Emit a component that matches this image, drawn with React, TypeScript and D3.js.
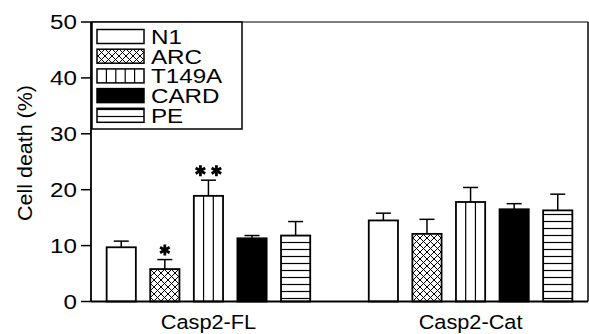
import React from "react";
import * as d3 from "d3";

// groups on the x axis
const groups = ["Casp2-FL", "Casp2-Cat"];
// constructs (legend order)
const series = ["N1", "ARC", "T149A", "CARD", "PE"];
// mean cell death (%) per group, in series order
const meanFL = [9.7, 5.8, 18.9, 11.3, 11.8];
const meanCat = [14.5, 12.1, 17.8, 16.5, 16.3];
// upper error (mean + SE)
const errFL = [10.8, 7.5, 21.7, 11.8, 14.3];
const errCat = [15.8, 14.7, 20.4, 17.5, 19.2];
// significance stars
const starsFL = [0, 1, 2, 0, 0];
const starsCat = [0, 0, 0, 0, 0];
const yTicks = [0, 10, 20, 30, 40, 50];

const W = 589;
const H = 334;
const left = 91;
const right = 588;
const top = 22;
const bottom = 301.5;
const font = "Arial, 'Liberation Sans', Helvetica, sans-serif";

const fills: Record<string, string> = {
  N1: "#fff",
  ARC: "url(#pat-arc)",
  T149A: "#fff",
  CARD: "#000",
  PE: "url(#pat-pe)",
};

const star = d3.symbol(d3.symbolAsterisk, 85)();

export default function App() {
  const x0 = d3.scaleBand().domain(groups).range([left, right]).paddingInner(0.22).paddingOuter(0.058);
  const x1 = d3.scaleBand().domain(series).range([0, x0.bandwidth()]).paddingInner(0.33).paddingOuter(0.01);
  const y = d3.scaleLinear().domain([0, 50]).range([bottom, top]);

  const rows = groups.flatMap((g, gi) =>
    series.map((s, si) => ({
      g,
      s,
      v: gi === 0 ? meanFL[si] : meanCat[si],
      e: gi === 0 ? errFL[si] : errCat[si],
      n: gi === 0 ? starsFL[si] : starsCat[si],
    }))
  );

  const bw = x1.bandwidth();

  // vertical stripes for T149A
  const stripes = (bx: number, by: number, w: number, h: number, n: number) =>
    d3.range(1, n).map((k) => (
      <line key={k} x1={bx + (w * k) / n} x2={bx + (w * k) / n} y1={by} y2={by + h} stroke="#000" strokeWidth={1.2} />
    ));

  return (
    <svg width={W} height={H} style={{ position: "absolute", left: 0, top: 0, background: "#fff" }} fontFamily={font}>
      <defs>
        <pattern id="pat-arc" width="7" height="7" patternUnits="userSpaceOnUse">
          <rect width="7" height="7" fill="#fff" />
          <path d="M0,0L7,7M7,0L0,7M-1,6L1,8M6,-1L8,1M-1,1L1,-1M6,8L8,6" stroke="#000" strokeWidth="1" />
        </pattern>
        <pattern id="pat-pe" width="7" height="7" patternUnits="userSpaceOnUse" y="1">
          <rect width="7" height="7" fill="#fff" />
          <line x1="0" y1="3.5" x2="7" y2="3.5" stroke="#000" strokeWidth="1.2" />
        </pattern>
      </defs>

      {/* bars */}
      {rows.map((d, i) => {
        const bx = (x0(d.g) as number) + (x1(d.s) as number);
        const cx = bx + bw / 2;
        const by = y(d.v);
        const bh = y(0) - y(d.v);
        return (
          <g key={i}>
            <line x1={cx} x2={cx} y1={by} y2={y(d.e)} stroke="#000" strokeWidth={1.5} />
            <line x1={cx - 7.5} x2={cx + 7.5} y1={y(d.e)} y2={y(d.e)} stroke="#000" strokeWidth={1.5} />
            <rect x={bx} y={by} width={bw} height={bh} fill={fills[d.s]} />
            {d.s === "T149A" && stripes(bx, by, bw, bh, 3)}
            <rect x={bx} y={by} width={bw} height={bh} fill="none" stroke="#000" strokeWidth={1.8} />
            {d3.range(d.n).map((k) => (
              <path
                key={k}
                d={star}
                transform={`translate(${cx + (k - (d.n - 1) / 2) * 16},${y(d.e) - 9.5})`}
                stroke="#000"
                strokeWidth={2.8}
              />
            ))}
          </g>
        );
      })}

      {/* frame */}
      <line x1={left} x2={right} y1={top} y2={top} stroke="#555" strokeWidth={1.5} />
      <line x1={right} x2={right} y1={top} y2={bottom} stroke="#000" strokeWidth={1.5} />
      <line x1={left} x2={right} y1={bottom} y2={bottom} stroke="#000" strokeWidth={1.8} />
      <line x1={left} x2={left} y1={top} y2={bottom} stroke="#000" strokeWidth={1.8} />

      {/* y axis */}
      {yTicks.map((t) => (
        <g key={t}>
          <line x1={left - 10} x2={left} y1={y(t)} y2={y(t)} stroke="#000" strokeWidth={1.5} />
          <text transform={`translate(77,${y(t)}) scale(1.18,1)`} dy="0.36em" textAnchor="end" fontSize={20.5}>
            {t}
          </text>
        </g>
      ))}
      <text transform={`translate(32,153) rotate(-90) scale(1.1,1)`} textAnchor="middle" fontSize={19.5}>
        Cell death (%)
      </text>

      {/* x labels */}
      {groups.map((g) => (
        <text
          key={g}
          transform={`translate(${(x0(g) as number) + x0.bandwidth() / 2},329) scale(1.06,1)`}
          textAnchor="middle"
          fontSize={20.5}
        >
          {g}
        </text>
      ))}

      {/* legend */}
      <rect x={92} y={top} width={150} height={107} fill="#fff" stroke="#000" strokeWidth={1.5} />
      {series.map((s, i) => {
        const ry = 29.5 + i * 19.7;
        return (
          <g key={s}>
            <rect x={97} y={ry} width={47} height={14} fill={fills[s]} />
            {s === "T149A" && stripes(97, ry, 47, 14, 5)}
            <rect x={97} y={ry} width={47} height={14} fill="none" stroke="#000" strokeWidth={1.5} />
            <text transform={`translate(151,${ry + 14.5}) scale(1.18,1)`} fontSize={20.5}>
              {s}
            </text>
          </g>
        );
      })}
    </svg>
  );
}
